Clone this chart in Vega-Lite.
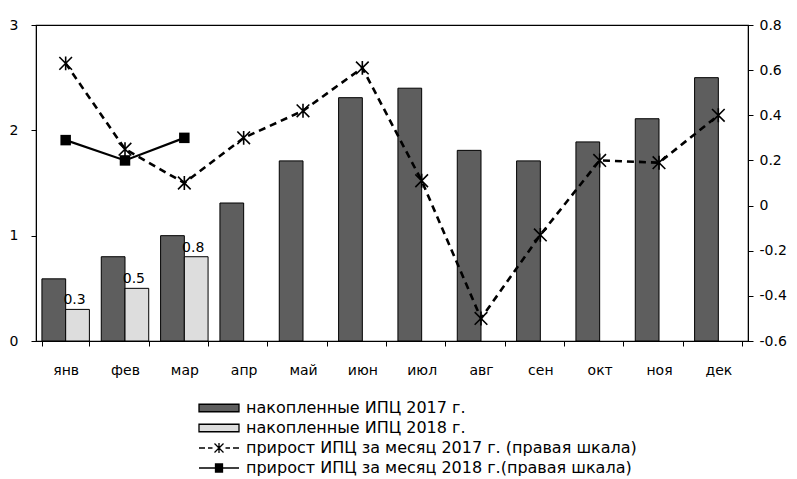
{
  "$schema": "https://vega.github.io/schema/vega-lite/v6.json",
  "width": 712,
  "height": 316,
  "autosize": {"type": "none"},
  "padding": {"left": 36, "top": 25, "right": 49, "bottom": 138},
  "background": "white",
  "config": {
    "view": {"stroke": "black", "strokeWidth": 1.2},
    "font": "DejaVu Sans",
    "axis": {
      "domainColor": "black",
      "tickColor": "black",
      "labelColor": "black",
      "grid": false,
      "labelFont": "DejaVu Sans",
      "labelFontSize": 14,
      "title": null,
      "tickSize": 5
    }
  },
  "data": {
    "values": [
      {"m": "янв", "s": "накопленные ИПЦ 2017 г.", "v": 0.59},
      {"m": "фев", "s": "накопленные ИПЦ 2017 г.", "v": 0.8},
      {"m": "мар", "s": "накопленные ИПЦ 2017 г.", "v": 1.0},
      {"m": "апр", "s": "накопленные ИПЦ 2017 г.", "v": 1.31},
      {"m": "май", "s": "накопленные ИПЦ 2017 г.", "v": 1.71},
      {"m": "июн", "s": "накопленные ИПЦ 2017 г.", "v": 2.31},
      {"m": "июл", "s": "накопленные ИПЦ 2017 г.", "v": 2.4},
      {"m": "авг", "s": "накопленные ИПЦ 2017 г.", "v": 1.81},
      {"m": "сен", "s": "накопленные ИПЦ 2017 г.", "v": 1.71},
      {"m": "окт", "s": "накопленные ИПЦ 2017 г.", "v": 1.89},
      {"m": "ноя", "s": "накопленные ИПЦ 2017 г.", "v": 2.11},
      {"m": "дек", "s": "накопленные ИПЦ 2017 г.", "v": 2.5},
      {"m": "янв", "s": "накопленные ИПЦ 2018 г.", "v": 0.3},
      {"m": "фев", "s": "накопленные ИПЦ 2018 г.", "v": 0.5},
      {"m": "мар", "s": "накопленные ИПЦ 2018 г.", "v": 0.8},
      {"m": "янв", "s": "прирост ИПЦ за месяц 2017 г. (правая шкала)", "v": 0.63},
      {"m": "фев", "s": "прирост ИПЦ за месяц 2017 г. (правая шкала)", "v": 0.25},
      {"m": "мар", "s": "прирост ИПЦ за месяц 2017 г. (правая шкала)", "v": 0.1},
      {"m": "апр", "s": "прирост ИПЦ за месяц 2017 г. (правая шкала)", "v": 0.3},
      {"m": "май", "s": "прирост ИПЦ за месяц 2017 г. (правая шкала)", "v": 0.42},
      {"m": "июн", "s": "прирост ИПЦ за месяц 2017 г. (правая шкала)", "v": 0.61},
      {"m": "июл", "s": "прирост ИПЦ за месяц 2017 г. (правая шкала)", "v": 0.11},
      {"m": "авг", "s": "прирост ИПЦ за месяц 2017 г. (правая шкала)", "v": -0.5},
      {"m": "сен", "s": "прирост ИПЦ за месяц 2017 г. (правая шкала)", "v": -0.13},
      {"m": "окт", "s": "прирост ИПЦ за месяц 2017 г. (правая шкала)", "v": 0.2},
      {"m": "ноя", "s": "прирост ИПЦ за месяц 2017 г. (правая шкала)", "v": 0.19},
      {"m": "дек", "s": "прирост ИПЦ за месяц 2017 г. (правая шкала)", "v": 0.4},
      {"m": "янв", "s": "прирост ИПЦ за месяц 2018 г.(правая шкала)", "v": 0.29},
      {"m": "фев", "s": "прирост ИПЦ за месяц 2018 г.(правая шкала)", "v": 0.2},
      {"m": "мар", "s": "прирост ИПЦ за месяц 2018 г.(правая шкала)", "v": 0.3}
    ]
  },
  "encoding": {
    "x": {
      "field": "m",
      "type": "nominal",
      "sort": ["янв", "фев", "мар", "апр", "май", "июн", "июл", "авг", "сен", "окт", "ноя", "дек"],
      "scale": {"paddingInner": 0.2, "paddingOuter": 0.1},
      "axis": {"tickBand": "extent", "labelAngle": 0, "labelPadding": 17}
    }
  },
  "layer": [
    {
      "encoding": {
        "y": {
          "field": "v",
          "type": "quantitative",
          "scale": {"domain": [0, 3]},
          "axis": {"values": [0, 1, 2, 3], "format": "d", "labelPadding": 13}
        }
      },
      "layer": [
        {
          "transform": [{"filter": {"field": "s", "oneOf": ["накопленные ИПЦ 2017 г.", "накопленные ИПЦ 2018 г."]}}],
          "mark": {"type": "bar", "stroke": "black", "strokeWidth": 1},
          "encoding": {
            "xOffset": {"field": "s", "type": "nominal", "scale": {"domain": ["накопленные ИПЦ 2017 г.", "накопленные ИПЦ 2018 г."]}},
            "fill": {
              "field": "s",
              "type": "nominal",
              "scale": {"domain": ["накопленные ИПЦ 2017 г.", "накопленные ИПЦ 2018 г."], "range": ["#5e5e5e", "#dddddd"]},
              "legend": null
            }
          }
        },
        {
          "transform": [{"filter": {"field": "s", "equal": "накопленные ИПЦ 2018 г."}}],
          "mark": {"type": "text", "baseline": "bottom", "dy": -2, "dx": -3, "fontSize": 14, "font": "DejaVu Sans", "color": "black"},
          "encoding": {
            "xOffset": {"field": "s", "type": "nominal"},
            "text": {"field": "v", "type": "quantitative", "format": ".1f"}
          }
        },
        {
          "mark": {"type": "point", "filled": true, "opacity": 0},
          "encoding": {
            "color": {
              "field": "s",
              "type": "nominal",
              "scale": {
                "domain": ["накопленные ИПЦ 2017 г.", "накопленные ИПЦ 2018 г.", "прирост ИПЦ за месяц 2017 г. (правая шкала)", "прирост ИПЦ за месяц 2018 г.(правая шкала)"],
                "range": ["#5e5e5e", "#dddddd", "black", "black"]
              },
              "legend": {
                "title": null,
                "orient": "none",
                "legendX": 175,
                "legendY": 375,
                "symbolSize": 100,
                "symbolStrokeColor": "black",
                "symbolStrokeWidth": 1.3,
                "symbolOpacity": 1,
                "labelFont": "DejaVu Sans",
                "labelFontSize": 16,
                "labelColor": "black",
                "labelOffset": 19,
                "labelLimit": 600,
                "rowPadding": 4,
                "padding": 0,
                "encode": {
                  "symbols": {
                    "update": {
                      "fill": {"scale": "color", "field": "value"},
                      "fillOpacity": {"value": 1},
                      "stroke": {"value": "black"},
                      "strokeOpacity": {"value": 1},
                      "opacity": {"value": 1}
                    }
                  }
                }
              }
            },
            "shape": {
              "field": "s",
              "type": "nominal",
              "scale": {
                "domain": ["накопленные ИПЦ 2017 г.", "накопленные ИПЦ 2018 г.", "прирост ИПЦ за месяц 2017 г. (правая шкала)", "прирост ИПЦ за месяц 2018 г.(правая шкала)"],
                "range": [
                  "M-4,-0.75H4V0.75H-4Z",
                  "M-4,-0.75H4V0.75H-4Z",
                  "M-4,0H-2.8M-2.2,0H-1.3M1.3,0H2.2M2.8,0H4M-0.9,-0.9L0.9,0.9M-0.9,0.9L0.9,-0.9M0,-1V1",
                  "M-4,0H4M-0.7,-0.8H0.7V0.8H-0.7Z"
                ]
              }
            }
          }
        }
      ]
    },
    {
      "encoding": {
        "y": {
          "field": "v",
          "type": "quantitative",
          "scale": {"domain": [-0.6, 0.8]},
          "axis": {
            "orient": "right",
            "values": [-0.6, -0.4, -0.2, 0, 0.2, 0.4, 0.6, 0.8],
            "format": ".1~f",
            "labelExpr": "replace(datum.label, '−', '-')",
            "labelPadding": 6
          }
        }
      },
      "layer": [
        {
          "transform": [{"filter": {"field": "s", "equal": "прирост ИПЦ за месяц 2017 г. (правая шкала)"}}],
          "mark": {"type": "line", "color": "black", "strokeWidth": 2.6, "strokeDash": [7, 5]}
        },
        {
          "transform": [{"filter": {"field": "s", "equal": "прирост ИПЦ за месяц 2018 г.(правая шкала)"}}],
          "mark": {"type": "line", "color": "black", "strokeWidth": 2.2}
        },
        {
          "transform": [{"filter": {"field": "s", "equal": "прирост ИПЦ за месяц 2017 г. (правая шкала)"}}],
          "mark": {"type": "point", "shape": "M-1,-1L1,1M-1,1L1,-1M0,-1.1V1.1", "size": 160, "stroke": "black", "strokeWidth": 1.6, "filled": false, "opacity": 1}
        },
        {
          "transform": [{"filter": {"field": "s", "equal": "прирост ИПЦ за месяц 2018 г.(правая шкала)"}}],
          "mark": {"type": "point", "shape": "square", "size": 110, "color": "black", "filled": true, "opacity": 1}
        }
      ]
    }
  ],
  "resolve": {"scale": {"y": "independent"}}
}
